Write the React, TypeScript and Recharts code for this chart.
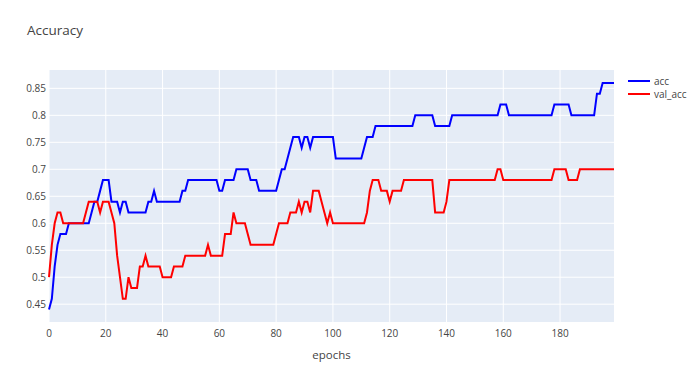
import { LineChart, Line, XAxis, YAxis, CartesianGrid } from 'recharts'

// values, one per epoch (0..199)
const acc = [
  0.44, 0.46, 0.52, 0.56, 0.58, 0.58, 0.58, 0.6, 0.6, 0.6,
  0.6, 0.6, 0.6, 0.6, 0.6, 0.62, 0.64, 0.64, 0.66, 0.68,
  0.68, 0.68, 0.64, 0.64, 0.64, 0.62, 0.64, 0.64, 0.62, 0.62,
  0.62, 0.62, 0.62, 0.62, 0.62, 0.64, 0.64, 0.66, 0.64, 0.64,
  0.64, 0.64, 0.64, 0.64, 0.64, 0.64, 0.64, 0.66, 0.66, 0.68,
  0.68, 0.68, 0.68, 0.68, 0.68, 0.68, 0.68, 0.68, 0.68, 0.68,
  0.66, 0.66, 0.68, 0.68, 0.68, 0.68, 0.7, 0.7, 0.7, 0.7,
  0.7, 0.68, 0.68, 0.68, 0.66, 0.66, 0.66, 0.66, 0.66, 0.66,
  0.66, 0.68, 0.7, 0.7, 0.72, 0.74, 0.76, 0.76, 0.76, 0.74,
  0.76, 0.76, 0.74, 0.76, 0.76, 0.76, 0.76, 0.76, 0.76, 0.76,
  0.76, 0.72, 0.72, 0.72, 0.72, 0.72, 0.72, 0.72, 0.72, 0.72,
  0.72, 0.74, 0.76, 0.76, 0.76, 0.78, 0.78, 0.78, 0.78, 0.78,
  0.78, 0.78, 0.78, 0.78, 0.78, 0.78, 0.78, 0.78, 0.78, 0.8,
  0.8, 0.8, 0.8, 0.8, 0.8, 0.8, 0.78, 0.78, 0.78, 0.78,
  0.78, 0.78, 0.8, 0.8, 0.8, 0.8, 0.8, 0.8, 0.8, 0.8,
  0.8, 0.8, 0.8, 0.8, 0.8, 0.8, 0.8, 0.8, 0.8, 0.82,
  0.82, 0.82, 0.8, 0.8, 0.8, 0.8, 0.8, 0.8, 0.8, 0.8,
  0.8, 0.8, 0.8, 0.8, 0.8, 0.8, 0.8, 0.8, 0.82, 0.82,
  0.82, 0.82, 0.82, 0.82, 0.8, 0.8, 0.8, 0.8, 0.8, 0.8,
  0.8, 0.8, 0.8, 0.84, 0.84, 0.86, 0.86, 0.86, 0.86, 0.86,
]

const valAcc = [
  0.5, 0.56, 0.6, 0.62, 0.62, 0.6, 0.6, 0.6, 0.6, 0.6,
  0.6, 0.6, 0.6, 0.62, 0.64, 0.64, 0.64, 0.64, 0.62, 0.64,
  0.64, 0.64, 0.62, 0.6, 0.54, 0.5, 0.46, 0.46, 0.5, 0.48,
  0.48, 0.48, 0.52, 0.52, 0.54, 0.52, 0.52, 0.52, 0.52, 0.52,
  0.5, 0.5, 0.5, 0.5, 0.52, 0.52, 0.52, 0.52, 0.54, 0.54,
  0.54, 0.54, 0.54, 0.54, 0.54, 0.54, 0.56, 0.54, 0.54, 0.54,
  0.54, 0.54, 0.58, 0.58, 0.58, 0.62, 0.6, 0.6, 0.6, 0.6,
  0.58, 0.56, 0.56, 0.56, 0.56, 0.56, 0.56, 0.56, 0.56, 0.56,
  0.58, 0.6, 0.6, 0.6, 0.6, 0.62, 0.62, 0.62, 0.64, 0.62,
  0.64, 0.64, 0.62, 0.66, 0.66, 0.66, 0.64, 0.62, 0.6, 0.62,
  0.6, 0.6, 0.6, 0.6, 0.6, 0.6, 0.6, 0.6, 0.6, 0.6,
  0.6, 0.6, 0.62, 0.66, 0.68, 0.68, 0.68, 0.66, 0.66, 0.66,
  0.64, 0.66, 0.66, 0.66, 0.66, 0.68, 0.68, 0.68, 0.68, 0.68,
  0.68, 0.68, 0.68, 0.68, 0.68, 0.68, 0.62, 0.62, 0.62, 0.62,
  0.64, 0.68, 0.68, 0.68, 0.68, 0.68, 0.68, 0.68, 0.68, 0.68,
  0.68, 0.68, 0.68, 0.68, 0.68, 0.68, 0.68, 0.68, 0.7, 0.7,
  0.68, 0.68, 0.68, 0.68, 0.68, 0.68, 0.68, 0.68, 0.68, 0.68,
  0.68, 0.68, 0.68, 0.68, 0.68, 0.68, 0.68, 0.68, 0.7, 0.7,
  0.7, 0.7, 0.7, 0.68, 0.68, 0.68, 0.68, 0.7, 0.7, 0.7,
  0.7, 0.7, 0.7, 0.7, 0.7, 0.7, 0.7, 0.7, 0.7, 0.7,
]

const xTicks = [0, 20, 40, 60, 80, 100, 120, 140, 160, 180]
const yTicks = [0.45, 0.5, 0.55, 0.6, 0.65, 0.7, 0.75, 0.8, 0.85]

const series = [
  { key: 'acc', color: '#0000ff' },
  { key: 'val_acc', color: '#ff0000' },
]

const data = acc.map((v, i) => ({ epoch: i, acc: v, val_acc: valAcc[i] }))

const font = '"Open Sans", Verdana, Arial, sans-serif'
const tick = { fontSize: 10, fontFamily: font, fill: '#444' }

export default function App() {
  return (
    <div style={{ position: 'absolute', left: 0, top: 0, width: 700, height: 378, background: '#fff', fontFamily: font }}>
      <div style={{ position: 'absolute', left: 27, top: 21, fontSize: 13.5, color: '#444' }}>Accuracy</div>

      {/* legend */}
      <div style={{ position: 'absolute', left: 628, top: 74 }}>
        {series.map((s, i) => (
          <div key={s.key} style={{ display: 'flex', alignItems: 'center', height: 13, marginTop: i ? 0 : 0 }}>
            <span style={{ width: 22, height: 2, background: s.color, display: 'inline-block' }} />
            <span style={{ fontSize: 10, color: '#444', marginLeft: 4 }}>{s.key}</span>
          </div>
        ))}
      </div>

      <LineChart width={700} height={378} data={data} margin={{ top: 70, right: 86, bottom: 0, left: 0 }}>
        <CartesianGrid fill="#e5ecf6" stroke="#fff" strokeWidth={1} horizontalValues={yTicks} verticalValues={xTicks} />
        <XAxis
          dataKey="epoch"
          type="number"
          domain={[0, 199]}
          ticks={xTicks}
          height={56}
          axisLine={false}
          tickLine={false}
          tickSize={0}
          tickMargin={8}
          tick={tick}
          label={{ value: 'epochs', position: 'insideBottom', offset: 19, style: { fontSize: 11.5, fontFamily: font, fill: '#444' } }}
        />
        <YAxis
          type="number"
          domain={[0.417, 0.884]}
          ticks={yTicks}
          width={49}
          axisLine={false}
          tickLine={false}
          tickSize={0}
          tickMargin={3}
          tick={tick}
        />
        {series.map(s => (
          <Line key={s.key} type="linear" dataKey={s.key} stroke={s.color} strokeWidth={2} dot={false} isAnimationActive={false} />
        ))}
      </LineChart>
    </div>
  )
}
